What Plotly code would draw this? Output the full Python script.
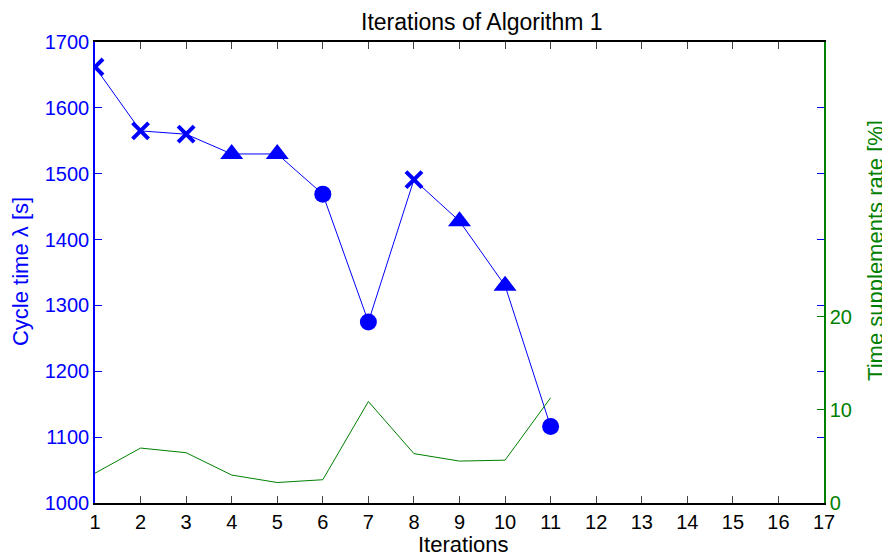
import plotly.graph_objects as go

iterations = [1, 2, 3, 4, 5, 6, 7, 8, 9, 10, 11]
cycle_time = [1662, 1565, 1560, 1530, 1530, 1469, 1275, 1491, 1428, 1330, 1116]
marker_kind = ["x", "x", "x", "tri", "tri", "circ", "circ", "x", "tri", "tri", "circ"]
supplements_rate = [3.2, 5.9, 5.4, 3.0, 2.2, 2.5, 10.9, 5.3, 4.5, 4.6, 11.3]

x_ticks = list(range(1, 18))
y_ticks = [1000, 1100, 1200, 1300, 1400, 1500, 1600, 1700]
y2_ticks = [0, 10, 20]

BLUE = "#0000FF"
GREEN = "#008000"
FONT = "Liberation Sans, Arial, sans-serif"

sym_map = {"x": "x-thin-open", "tri": "triangle-up", "circ": "circle"}
size_map = {"x": 16, "tri": 20, "circ": 17}
lw_map = {"x": 4, "tri": 0, "circ": 0}

fig = go.Figure()
fig.add_trace(go.Scatter(
    x=iterations, y=supplements_rate, mode="lines", yaxis="y2",
    line=dict(color=GREEN, width=1), showlegend=False))
fig.add_trace(go.Scatter(
    x=iterations, y=cycle_time, mode="lines+markers",
    line=dict(color=BLUE, width=1),
    marker=dict(color=BLUE, opacity=1,
                symbol=[sym_map[k] for k in marker_kind],
                size=[size_map[k] for k in marker_kind],
                line=dict(color=BLUE, width=[lw_map[k] for k in marker_kind])),
    showlegend=False))

# the page body adds an 8px margin, so the figure is 8px smaller
fig.update_layout(
    width=882, height=550,
    margin=dict(l=87, r=66, t=34, b=55),
    paper_bgcolor="white", plot_bgcolor="white",
    font=dict(family=FONT, size=20, color="black"),
    xaxis=dict(range=[1, 17], tickvals=x_ticks, ticks="inside", ticklen=7,
               showline=True, linecolor="black", linewidth=1.5, mirror="ticks",
               showgrid=False, zeroline=False, tickfont=dict(color="black", size=20)),
    yaxis=dict(range=[1000, 1700], tickvals=y_ticks, ticks="inside", ticklen=7,
               showline=True, linecolor=BLUE, linewidth=1.5, mirror="ticks",
               tickcolor=BLUE, showgrid=False, zeroline=False,
               tickfont=dict(color=BLUE, size=20)),
    yaxis2=dict(range=[0, 49.5], tickvals=y2_ticks, ticks="inside", ticklen=7,
                overlaying="y", side="right", showline=True, linecolor=GREEN,
                linewidth=1.5, tickcolor=GREEN, showgrid=False, zeroline=False,
                tickfont=dict(color=GREEN, size=20)),
    annotations=[
        dict(text="Iterations of Algorithm 1", x=0.531, y=1.0738, xref="paper", yref="paper",
             xanchor="center", yanchor="top", showarrow=False, borderpad=0,
             font=dict(size=23, color="black", family=FONT)),
        dict(text="Iterations", x=0.505, y=-0.091, xref="paper", yref="paper",
             xanchor="center", yanchor="middle", showarrow=False,
             font=dict(size=22, color="black", family=FONT)),
        dict(text="Cycle time λ [s]", x=-0.103, y=0.503, xref="paper", yref="paper",
             xanchor="center", yanchor="middle", showarrow=False, textangle=-90,
             font=dict(size=22, color=BLUE, family=FONT)),
        dict(text="Time supplements rate [%]", x=1.0713, y=0.549, xref="paper", yref="paper",
             xanchor="center", yanchor="middle", showarrow=False, textangle=-90,
             font=dict(size=22, color=GREEN, family=FONT)),
    ],
)

fig.write_html("out.html")
